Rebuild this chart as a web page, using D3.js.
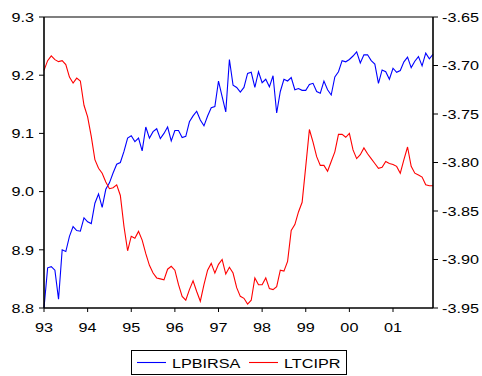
<!DOCTYPE html>
<html>
<head>
<meta charset="utf-8">
<script src="https://cdn.jsdelivr.net/npm/d3@7"></script>
<style>
  html, body { margin: 0; padding: 0; background: #fff; }
  svg { display: block; }
  text { font-family: "Liberation Sans", Arial, sans-serif; fill: #000; }
</style>
</head>
<body>
<svg id="chart" width="482" height="376"></svg>
<script>
// ---- Data (monthly, 1993M01 - 2001M12) ----
const yearLabels = ["93", "94", "95", "96", "97", "98", "99", "00", "01"];
const leftTicks = [8.8, 8.9, 9.0, 9.1, 9.2, 9.3];
const rightTicks = [-3.95, -3.90, -3.85, -3.80, -3.75, -3.70, -3.65];
const seriesNames = ["LPBIRSA", "LTCIPR"];

const lpbirsa = [
  8.800, 8.869, 8.871, 8.865, 8.815, 8.900, 8.897, 8.923, 8.940, 8.933, 8.932, 8.955,
  8.948, 8.945, 8.980, 8.996, 8.973, 9.004, 9.015, 9.032, 9.047, 9.050, 9.069, 9.092,
  9.096, 9.086, 9.092, 9.070, 9.111, 9.092, 9.103, 9.108, 9.091, 9.100, 9.111, 9.087,
  9.105, 9.105, 9.093, 9.095, 9.120, 9.130, 9.138, 9.123, 9.113, 9.130, 9.144, 9.146,
  9.190, 9.163, 9.137, 9.227, 9.183, 9.179, 9.171, 9.179, 9.203, 9.205, 9.179, 9.206,
  9.187, 9.193, 9.180, 9.199, 9.135, 9.172, 9.193, 9.190, 9.196, 9.175, 9.177, 9.174,
  9.174, 9.184, 9.186, 9.172, 9.169, 9.190, 9.175, 9.166, 9.197, 9.206, 9.225, 9.223,
  9.227, 9.233, 9.240, 9.221, 9.235, 9.235, 9.225, 9.219, 9.186, 9.209, 9.206, 9.193,
  9.212, 9.205, 9.208, 9.223, 9.231, 9.213, 9.224, 9.232, 9.216, 9.238, 9.228, 9.236
];

const ltcipr = [
  -3.705, -3.695, -3.690, -3.694, -3.696, -3.695, -3.699, -3.712, -3.718, -3.713, -3.716, -3.741,
  -3.753, -3.773, -3.797, -3.806, -3.811, -3.820, -3.827, -3.826, -3.823, -3.834, -3.866, -3.891,
  -3.876, -3.878, -3.871, -3.880, -3.894, -3.906, -3.914, -3.919, -3.920, -3.921, -3.910, -3.907,
  -3.911, -3.926, -3.938, -3.942, -3.931, -3.922, -3.933, -3.943, -3.926, -3.911, -3.904, -3.914,
  -3.905, -3.900, -3.915, -3.908, -3.914, -3.929, -3.938, -3.940, -3.946, -3.942, -3.919, -3.926,
  -3.926, -3.919, -3.930, -3.931, -3.928, -3.911, -3.912, -3.902, -3.870, -3.864, -3.851, -3.841,
  -3.804, -3.766, -3.779, -3.794, -3.803, -3.803, -3.809, -3.799, -3.789, -3.771, -3.771, -3.774,
  -3.770, -3.787, -3.796, -3.792, -3.785, -3.791, -3.796, -3.801, -3.806, -3.805, -3.799, -3.801,
  -3.802, -3.804, -3.811, -3.797, -3.784, -3.804, -3.811, -3.813, -3.815, -3.823, -3.824, -3.824
];

// ---- Layout ----
const L = 44, R = 433, T = 17, B = 308;
const FS = 13.5, SX = 1.2;

const svg = d3.select("#chart");
const x = d3.scaleLinear().domain([0, lpbirsa.length - 1]).range([L, R]);
const yL = d3.scaleLinear().domain([8.8, 9.3]).range([B, T]);
const yR = d3.scaleLinear().domain([-3.95, -3.65]).range([B, T]);

function label(g, tx, ty, str, anchor) {
  g.append("text")
    .attr("transform", `translate(${tx},${ty}) scale(${SX},1)`)
    .attr("text-anchor", anchor)
    .style("font-size", FS + "px")
    .text(str);
}

// Lines
const lineL = d3.line().x((d, i) => x(i)).y(d => yL(d));
const lineR = d3.line().x((d, i) => x(i)).y(d => yR(d));

svg.append("path").datum(lpbirsa).attr("d", lineL)
  .attr("fill", "none").attr("stroke", "#0000ff").attr("stroke-width", 1.1);
svg.append("path").datum(ltcipr).attr("d", lineR)
  .attr("fill", "none").attr("stroke", "#ff0000").attr("stroke-width", 1.1);

// Frame
const frame = svg.append("g").attr("stroke", "#000").attr("fill", "none");
frame.append("line").attr("x1", L).attr("x2", R).attr("y1", T).attr("y2", T).attr("stroke-width", 1.2);
frame.append("line").attr("x1", L).attr("x2", R).attr("y1", B).attr("y2", B).attr("stroke-width", 1.6);
frame.append("line").attr("x1", L).attr("x2", L).attr("y1", T).attr("y2", B).attr("stroke-width", 1.6);
frame.append("line").attr("x1", R).attr("x2", R).attr("y1", T).attr("y2", B).attr("stroke-width", 1.6);

// Left axis ticks + labels
const gl = svg.append("g");
leftTicks.forEach(v => {
  const yy = yL(v);
  gl.append("line").attr("x1", L - 5).attr("x2", L).attr("y1", yy).attr("y2", yy)
    .attr("stroke", "#000").attr("stroke-width", 1);
  label(gl, 34, yy + 4.8, v.toFixed(1), "end");
});

// Right axis ticks + labels
const gr = svg.append("g");
rightTicks.forEach(v => {
  const yy = yR(v);
  gr.append("line").attr("x1", R).attr("x2", R + 5).attr("y1", yy).attr("y2", yy)
    .attr("stroke", "#000").attr("stroke-width", 1);
  label(gr, 442, yy + 4.8, v.toFixed(2), "start");
});

// Bottom axis ticks + labels
const gb = svg.append("g");
yearLabels.forEach((s, k) => {
  const xx = x(k * 12);
  gb.append("line").attr("x1", xx).attr("x2", xx).attr("y1", B).attr("y2", B + 4)
    .attr("stroke", "#000").attr("stroke-width", 1);
  label(gb, xx, 332, s, "middle");
});

// Legend
const lg = svg.append("g");
lg.append("rect").attr("x", 131.5).attr("y", 350.5).attr("width", 215).attr("height", 24)
  .attr("fill", "#fff").attr("stroke", "#000").attr("stroke-width", 1);
const legendColors = ["#0000ff", "#ff0000"];
const legendX = [137, 249];
seriesNames.forEach((n, i) => {
  lg.append("line").attr("x1", legendX[i]).attr("x2", legendX[i] + 29)
    .attr("y1", 362.5).attr("y2", 362.5).attr("stroke", legendColors[i]).attr("stroke-width", 1.1);
  label(lg, legendX[i] + 35, 367.5, n, "start");
});
</script>
</body>
</html>
